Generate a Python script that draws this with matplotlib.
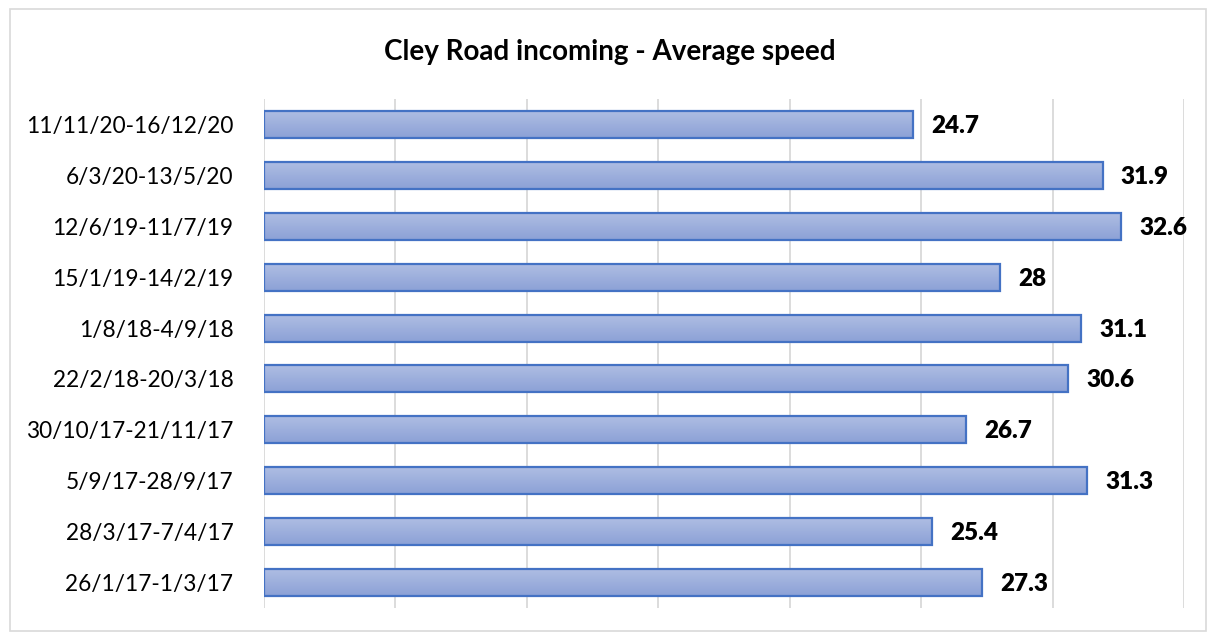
import numpy as np
import matplotlib
matplotlib.use("Agg")
import matplotlib.pyplot as plt
from matplotlib.colors import LinearSegmentedColormap
from matplotlib.patches import Rectangle

# Data (top to bottom as shown)
periods = ["11/11/20-16/12/20", "6/3/20-13/5/20", "12/6/19-11/7/19", "15/1/19-14/2/19",
           "1/8/18-4/9/18", "22/2/18-20/3/18", "30/10/17-21/11/17", "5/9/17-28/9/17",
           "28/3/17-7/4/17", "26/1/17-1/3/17"]
speeds = [24.7, 31.9, 32.6, 28, 31.1, 30.6, 26.7, 31.3, 25.4, 27.3]

plt.rcParams['font.family'] = ['Lato', 'DejaVu Sans']

fig = plt.figure(figsize=(12.08, 6.32), dpi=100)
ax = fig.add_axes([264 / 1208, 1 - 608 / 632, (1184 - 264) / 1208, (608 - 99) / 632])

# outer chart border
fig.patches.append(Rectangle((10 / 1208, 1 / 632), 1196 / 1208, 622 / 632,
                             transform=fig.transFigure, fill=False,
                             edgecolor='#d9d9d9', linewidth=1.2))

ypos = np.arange(len(periods))
bar_h = 0.53
grad = LinearSegmentedColormap.from_list('g', ['#aebde3', '#8ca1d6'])

bars = ax.barh(ypos, speeds, height=bar_h, color='none', edgecolor='#4472c4',
               linewidth=1.6, zorder=3)
for b in bars:
    x0, y0 = b.get_x(), b.get_y()
    w, h = b.get_width(), b.get_height()
    # y axis is inverted: origin='lower' puts the light end at the visual top
    im = ax.imshow(np.linspace(0, 1, 50).reshape(-1, 1), cmap=grad, aspect='auto',
                   extent=[x0, x0 + w, y0, y0 + h], origin='lower', zorder=2)
    im.set_clip_path(b)

for y, v in zip(ypos, speeds):
    ax.text(v + 0.7, y + 0.03, f"{v:g}", va='center', ha='left', fontsize=17.5,
            fontweight='heavy', color='black')

ax.set_xlim(0, 35)
ax.set_ylim(len(periods) - 0.5, -0.5)
ax.set_xticks(np.arange(0, 36, 5))
ax.set_xticklabels([])
ax.tick_params(axis='x', length=0)
ax.tick_params(axis='y', length=0, pad=22, labelsize=16.3)
ax.set_yticks(ypos)
ax.set_yticklabels(periods)
ax.grid(axis='x', color='#d9d9d9', linewidth=1.3, zorder=0)
ax.set_axisbelow(True)
for s in ax.spines.values():
    s.set_visible(False)

fig.text(610 / 1208, 1 - 52 / 632, "Cley Road incoming - Average speed", ha='center',
         va='center', fontsize=20, fontweight='bold')

fig.savefig("out.png", dpi=100)
